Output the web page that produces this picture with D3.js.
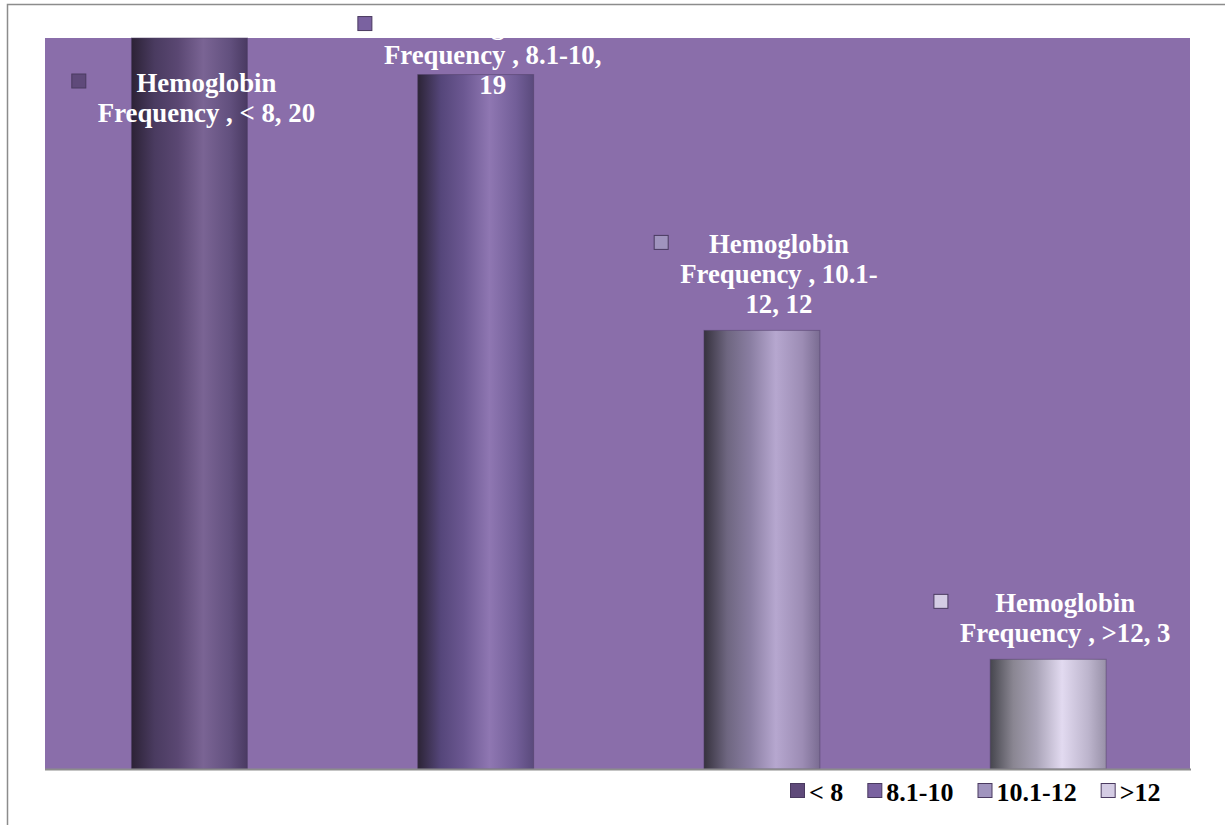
<!DOCTYPE html>
<html><head><meta charset="utf-8">
<script src="https://cdn.jsdelivr.net/npm/d3@7"></script>
<style>html,body{margin:0;padding:0;background:#fff;}svg{display:block;}</style>
</head><body>
<svg id="chart" width="1225" height="825"></svg>
<script>
// ---- data ----
const categories = ["< 8", "8.1-10", "10.1-12", ">12"];
const values = [20, 19, 12, 3];
const seriesName = "Hemoglobin Frequency";
const labelLines = [
  ["Hemoglobin", "Frequency , < 8, 20"],
  ["Hemoglobin", "Frequency , 8.1-10,", "19"],
  ["Hemoglobin", "Frequency , 10.1-", "12, 12"],
  ["Hemoglobin", "Frequency , >12, 3"]
];
// ---- styling ----
const baseColors = ["#5f4a7a", "#7a62a0", "#a094be", "#d4cce4"];
const gradStops = [
  ["#2c2236", "#4a3b60", "#5a4772", "#7a6494", "#62507e", "#4a3a62"],
  ["#2c2436", "#55467a", "#6c5892", "#8f77b2", "#725e98", "#5a4a7c"],
  ["#36323e", "#6e6680", "#8a7ea2", "#b6a7cf", "#9c8cb4", "#7a6c92"],
  ["#46464e", "#8a8692", "#aaa4b8", "#e2daf0", "#bcb4cc", "#9890a8"]
];
const labelShift = [101, 37, 0, 0];

const svg = d3.select("#chart");
const plot = {left: 45, right: 1190, top: 38, bottom: 769};

// outer border
svg.append("rect").attr("x", 7.5).attr("y", 4.5).attr("width", 1240).attr("height", 900)
  .attr("fill", "#fff").attr("stroke", "#8c8c8c").attr("stroke-width", 1.5);

// plot background
svg.append("rect").attr("x", plot.left).attr("y", plot.top)
  .attr("width", plot.right - plot.left).attr("height", plot.bottom - plot.top)
  .attr("fill", "#8a6eaa");

const x = d3.scaleBand().domain(categories).range([plot.left + 1.3, plot.right + 1.3])
  .paddingInner(0.595).paddingOuter(0.2975);
const y = d3.scaleLinear().domain([0, 20]).range([plot.bottom, plot.top]);

const defs = svg.append("defs");
categories.forEach((c, i) => {
  const g = defs.append("linearGradient").attr("id", "g" + i)
    .attr("x1", "0%").attr("x2", "100%").attr("y1", "0%").attr("y2", "0%");
  const offs = [0, 0.2, 0.4, 0.62, 0.85, 1];
  gradStops[i].forEach((col, k) => g.append("stop").attr("offset", offs[k]).attr("stop-color", col));
});

// bars
svg.append("g").selectAll("rect").data(values).join("rect")
  .attr("x", (d, i) => x(categories[i]))
  .attr("y", d => y(d))
  .attr("width", x.bandwidth())
  .attr("height", d => y(0) - y(d))
  .attr("fill", (d, i) => `url(#g${i})`)
  .attr("stroke", "#4e3e66").attr("stroke-width", 1).attr("stroke-opacity", 0.5);

// axis line
svg.append("g").attr("transform", `translate(0,${plot.bottom})`)
  .call(d3.axisBottom(x).tickSize(0).tickFormat(""))
  .call(g => g.select(".domain").attr("d", `M${plot.left},0.5H${plot.right + 1}`)
    .attr("stroke", "#8c8c8c").attr("stroke-width", 2));

// data labels
const font = "'Liberation Serif','Times New Roman',serif";
const lineH = 30;
values.forEach((v, i) => {
  const cx = x(categories[i]) + x.bandwidth() / 2 + 17;
  const lines = labelLines[i];
  const lastBase = y(v) - 17.5 + labelShift[i];
  const firstBase = lastBase - (lines.length - 1) * lineH;
  const g = svg.append("g");
  const t = g.append("text").attr("font-family", font).attr("font-weight", "bold")
    .attr("font-size", 26.8).attr("fill", "#ffffff").attr("text-anchor", "middle");
  lines.forEach((ln, k) => t.append("tspan").attr("x", cx).attr("y", firstBase + k * lineH).text(ln));
  let maxW = 0;
  t.selectAll("tspan").each(function () { maxW = Math.max(maxW, this.getComputedTextLength()); });
  const mx = cx - maxW / 2 - 12 - 14;
  g.append("rect").attr("x", mx).attr("y", firstBase - 10.5 - 7)
    .attr("width", 14).attr("height", 14)
    .attr("fill", baseColors[i]).attr("stroke", "#4a3a60").attr("stroke-width", 1);
});

// legend
const leg = svg.append("g");
let lx = 790;
categories.forEach((c, i) => {
  leg.append("rect").attr("x", lx + 0.5).attr("y", 783.5).attr("width", 14).attr("height", 14)
    .attr("fill", baseColors[i]).attr("stroke", "#4a3a60").attr("stroke-width", 1);
  const t = leg.append("text").attr("x", lx + 19).attr("y", 801)
    .attr("font-family", font).attr("font-weight", "bold").attr("font-size", 26)
    .attr("fill", "#000").text(c);
  lx = lx + 19 + t.node().getComputedTextLength() + 24;
});
</script>
</body></html>
